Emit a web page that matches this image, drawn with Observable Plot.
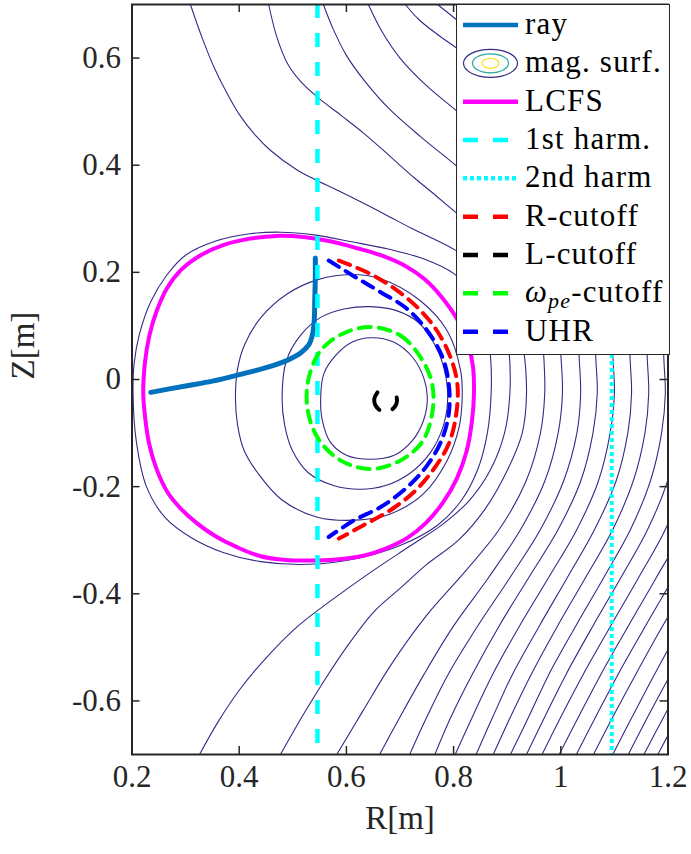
<!DOCTYPE html>
<html><head><meta charset="utf-8">
<script src="https://cdn.jsdelivr.net/npm/d3@7"></script>
<script src="https://cdn.jsdelivr.net/npm/@observablehq/plot@0.6"></script>
<style>
body{margin:0;background:#fff;}
#wrap{position:relative;width:691px;height:854px;}
#legend{position:absolute;left:0;top:0;}
</style></head><body><div id="wrap"></div>
<script>
const xTicks=[0.2,0.4,0.6,0.8,1,1.2];
const yTicks=[-0.6,-0.4,-0.2,0,0.2,0.4,0.6];
const harm1R=0.546;
const harm2R=1.095;
const ray=[[0.235,-0.024],[0.30,-0.012],[0.35,-0.003],[0.40,0.009],[0.45,0.022],[0.49,0.036],[0.515,0.050],[0.530,0.065],[0.537,0.085],[0.540,0.11],[0.541,0.15],[0.542,0.19],[0.542,0.227]];
const lcfs=[[0.221,-0.027],[0.224,0.03],[0.232,0.08],[0.245,0.125],[0.265,0.170],[0.292,0.205],[0.328,0.232],[0.370,0.251],[0.42,0.263],[0.47,0.268],[0.52,0.266],[0.57,0.258],[0.62,0.245],[0.664,0.232],[0.71,0.212],[0.745,0.188],[0.776,0.156],[0.807,0.112],[0.826,0.070],[0.836,0.025],[0.838,-0.027],[0.834,-0.08],[0.824,-0.135],[0.806,-0.185],[0.78,-0.230],[0.748,-0.268],[0.713,-0.296],[0.672,-0.316],[0.632,-0.329],[0.58,-0.336],[0.53,-0.338],[0.487,-0.337],[0.44,-0.330],[0.396,-0.313],[0.355,-0.292],[0.322,-0.269],[0.290,-0.240],[0.266,-0.210],[0.245,-0.165],[0.232,-0.120],[0.225,-0.075]];
const rCutoff=[[0.586,0.222],[0.645,0.197],[0.695,0.166],[0.738,0.129],[0.769,0.091],[0.794,0.042],[0.807,-0.008],[0.805,-0.064],[0.791,-0.12],[0.763,-0.167],[0.726,-0.21],[0.682,-0.244],[0.632,-0.272],[0.586,-0.297]];
const uhr=[[0.567,0.222],[0.617,0.191],[0.664,0.163],[0.713,0.132],[0.751,0.091],[0.779,0.042],[0.791,-0.008],[0.791,-0.064],[0.776,-0.117],[0.748,-0.164],[0.710,-0.204],[0.664,-0.238],[0.614,-0.263],[0.567,-0.294]];
const wpeCutoff=[[0.645,0.098],[0.701,0.082],[0.738,0.042],[0.760,-0.008],[0.760,-0.064],[0.741,-0.117],[0.701,-0.151],[0.645,-0.167],[0.589,-0.151],[0.546,-0.108],[0.527,-0.052],[0.530,0.004],[0.552,0.054],[0.592,0.085]];
const lCutoff=[[0.658,-0.024],[0.652,-0.036],[0.654,-0.048],[0.662,-0.057],[0.673,-0.060],[0.685,-0.056],[0.693,-0.046],[0.694,-0.034],[0.688,-0.024],[0.678,-0.019]];
const closedSurf=[
 [[0.552,-0.033],[0.558,0.011],[0.580,0.045],[0.611,0.070],[0.645,0.078],[0.688,0.070],[0.723,0.042],[0.744,0.004],[0.751,-0.033],[0.744,-0.076],[0.723,-0.114],[0.688,-0.142],[0.645,-0.149],[0.601,-0.142],[0.570,-0.117],[0.555,-0.076]],
 [[0.480,-0.034],[0.488,0.035],[0.514,0.082],[0.552,0.116],[0.598,0.132],[0.645,0.136],[0.692,0.129],[0.735,0.106],[0.766,0.063],[0.783,0.017],[0.789,-0.034],[0.781,-0.086],[0.757,-0.136],[0.720,-0.174],[0.673,-0.198],[0.626,-0.205],[0.576,-0.198],[0.529,-0.174],[0.499,-0.132],[0.485,-0.086]],
 [[0.393,-0.034],[0.397,0.02],[0.41,0.065],[0.44,0.115],[0.49,0.16],[0.545,0.186],[0.608,0.196],[0.664,0.188],[0.738,0.147],[0.788,0.091],[0.813,0.017],[0.816,-0.034],[0.810,-0.090],[0.788,-0.151],[0.744,-0.213],[0.682,-0.251],[0.626,-0.262],[0.546,-0.257],[0.48,-0.225],[0.435,-0.175],[0.409,-0.132],[0.397,-0.085]],
 [[0.202,-0.027],[0.204,0.03],[0.214,0.085],[0.235,0.145],[0.265,0.195],[0.300,0.232],[0.355,0.258],[0.42,0.272],[0.477,0.275],[0.54,0.270],[0.61,0.257],[0.68,0.243],[0.745,0.225],[0.80,0.198],[0.838,0.158],[0.86,0.10],[0.869,0.04],[0.870,-0.027],[0.863,-0.10],[0.845,-0.168],[0.815,-0.225],[0.77,-0.272],[0.70,-0.310],[0.62,-0.334],[0.53,-0.345],[0.44,-0.340],[0.37,-0.323],[0.310,-0.295],[0.262,-0.258],[0.227,-0.200],[0.208,-0.115]]
];
const openSurf=[
 [[0.309,0.700],[0.330,0.640],[0.353,0.583],[0.378,0.533],[0.402,0.492],[0.430,0.456],[0.458,0.428],[0.508,0.391],[0.546,0.371],[0.59,0.350],[0.632,0.329],[0.68,0.304],[0.726,0.280],[0.766,0.261],[0.804,0.241],[0.86,0.203],[0.89,0.14],[0.903,0.06],[0.905,-0.026],[0.895,-0.10],[0.868,-0.17],[0.83,-0.225],[0.78,-0.27],[0.72,-0.31],[0.645,-0.36],[0.575,-0.41],[0.51,-0.46],[0.45,-0.52],[0.40,-0.58],[0.36,-0.64],[0.326,-0.70]],
 [[0.455,0.700],[0.470,0.640],[0.490,0.590],[0.515,0.556],[0.546,0.527],[0.59,0.493],[0.632,0.460],[0.68,0.418],[0.726,0.377],[0.766,0.344],[0.804,0.312],[0.84,0.281],[0.878,0.235],[0.91,0.15],[0.93,0.06],[0.936,-0.026],[0.928,-0.10],[0.90,-0.17],[0.86,-0.24],[0.809,-0.30],[0.75,-0.345],[0.70,-0.39],[0.65,-0.435],[0.60,-0.50],[0.56,-0.56],[0.52,-0.625],[0.477,-0.70]],
 [[0.557,0.700],[0.575,0.655],[0.60,0.605],[0.635,0.556],[0.68,0.505],[0.74,0.452],[0.805,0.399],[0.845,0.365],[0.89,0.31],[0.935,0.22],[0.962,0.12],[0.968,0.047],[0.970,-0.026],[0.962,-0.10],[0.935,-0.19],[0.885,-0.28],[0.82,-0.36],[0.75,-0.44],[0.685,-0.53],[0.63,-0.62],[0.582,-0.70]],
 [[0.641,0.700],[0.665,0.652],[0.70,0.600],[0.75,0.548],[0.805,0.502],[0.85,0.463],[0.91,0.40],[0.96,0.30],[0.99,0.17],[1.0,0.047],[1.003,-0.026],[0.995,-0.10],[0.97,-0.19],[0.925,-0.28],[0.865,-0.37],[0.80,-0.46],[0.745,-0.55],[0.70,-0.63],[0.662,-0.70]],
 [[0.710,0.700],[0.735,0.672],[0.77,0.644],[0.805,0.619],[0.85,0.584],[0.93,0.50],[1.0,0.33],[1.03,0.17],[1.034,0.047],[1.037,-0.026],[1.03,-0.10],[1.005,-0.19],[0.962,-0.28],[0.905,-0.37],[0.845,-0.46],[0.79,-0.55],[0.75,-0.63],[0.718,-0.70]],
 [[0.770,0.700],[0.805,0.672],[0.95,0.55],[1.03,0.35],[1.062,0.17],[1.065,0.047],[1.068,-0.026],[1.06,-0.10],[1.037,-0.19],[0.995,-0.28],[0.94,-0.37],[0.885,-0.46],[0.835,-0.55],[0.795,-0.63],[0.765,-0.70]],
 [[0.86,0.70],[0.98,0.58],[1.06,0.38],[1.095,0.17],[1.097,0.047],[1.100,-0.026],[1.092,-0.10],[1.07,-0.19],[1.03,-0.28],[0.977,-0.37],[0.923,-0.46],[0.873,-0.55],[0.835,-0.63],[0.803,-0.70]],
 [[0.95,0.70],[1.05,0.55],[1.11,0.36],[1.128,0.17],[1.129,0.047],[1.132,-0.026],[1.125,-0.10],[1.103,-0.19],[1.063,-0.28],[1.012,-0.37],[0.96,-0.46],[0.91,-0.55],[0.873,-0.63],[0.842,-0.70]],
 [[1.05,0.70],[1.12,0.5],[1.155,0.3],[1.161,0.047],[1.164,-0.026],[1.157,-0.10],[1.135,-0.19],[1.097,-0.28],[1.046,-0.37],[0.994,-0.46],[0.945,-0.55],[0.906,-0.63],[0.874,-0.70]],
 [[1.14,0.7],[1.18,0.45],[1.193,0.2],[1.192,0.047],[1.195,-0.026],[1.188,-0.10],[1.167,-0.19],[1.13,-0.28],[1.08,-0.37],[1.028,-0.46],[0.978,-0.55],[0.94,-0.63],[0.906,-0.70]],
 [[1.227,-0.026],[1.22,-0.10],[1.199,-0.19],[1.162,-0.28],[1.112,-0.37],[1.06,-0.46],[1.01,-0.55],[0.97,-0.63],[0.936,-0.70]],
 [[1.255,-0.10],[1.23,-0.19],[1.195,-0.28],[1.145,-0.37],[1.093,-0.46],[1.042,-0.55],[1.0,-0.63],[0.965,-0.70]],
 [[1.26,-0.19],[1.228,-0.28],[1.178,-0.37],[1.126,-0.46],[1.075,-0.55],[1.033,-0.63],[0.997,-0.70]],
 [[1.26,-0.28],[1.21,-0.37],[1.158,-0.46],[1.107,-0.55],[1.065,-0.63],[1.029,-0.70]],
 [[1.245,-0.37],[1.19,-0.46],[1.14,-0.55],[1.097,-0.63],[1.061,-0.70]],
 [[1.28,-0.37],[1.225,-0.46],[1.175,-0.55],[1.133,-0.63],[1.097,-0.70]],
 [[1.255,-0.46],[1.205,-0.55],[1.162,-0.63],[1.126,-0.70]],
 [[1.29,-0.46],[1.235,-0.55],[1.192,-0.63],[1.155,-0.70]],
 [[1.30,-0.48],[1.26,-0.55],[1.218,-0.63],[1.181,-0.70]]
];
const legendLabels=["ray","mag. surf.","LCFS","1st harm.","2nd harm","R-cutoff","L-cutoff","ωpe-cutoff","UHR"];

const NAVY="#352a87", FONT="'Liberation Serif','DejaVu Serif',serif";
const flat=(arr)=>arr.flatMap((c,i)=>c.map(p=>({R:p[0],Z:p[1],id:i})));
const pts=(arr)=>arr.map(p=>({R:p[0],Z:p[1]}));
const dashed=(data,color,closed,da="12,8")=>Plot.line(pts(data),{x:"R",y:"Z",stroke:color,strokeWidth:4,strokeDasharray:da,curve:closed?"catmull-rom-closed":"catmull-rom"});

const chart=Plot.plot({
  width:691,height:854,marginLeft:131.5,marginRight:23.5,marginTop:4,marginBottom:100,
  style:{fontFamily:FONT,fontSize:"31px",color:"#262626",background:"#fff"},
  x:{domain:[0.2,1.2],axis:null},
  y:{domain:[-0.7,0.7],axis:null},
  marks:[
    Plot.line(flat(openSurf),{x:"R",y:"Z",z:"id",stroke:NAVY,strokeWidth:1.1,curve:"catmull-rom",clip:true}),
    Plot.line(flat(closedSurf),{x:"R",y:"Z",z:"id",stroke:NAVY,strokeWidth:1.1,curve:"catmull-rom-closed",clip:true}),
    Plot.line(pts(lcfs),{x:"R",y:"Z",stroke:"#ff00ff",strokeWidth:4,curve:"catmull-rom-closed"}),
    Plot.line(pts(ray),{x:"R",y:"Z",stroke:"#0072bd",strokeWidth:5,curve:"catmull-rom"}),
    Plot.ruleX([harm1R],{x:d=>d,stroke:"#00ffff",strokeWidth:4.5,strokeDasharray:"14,15"}),
    Plot.ruleX([harm2R],{x:d=>d,stroke:"#00ffff",strokeWidth:4,strokeDasharray:"4,3"}),
    dashed(rCutoff,"#ff0000",false),
    dashed(lCutoff,"#000000",false,"20,14,13,40"),
    dashed(wpeCutoff,"#00ff00",true),
    dashed(uhr,"#0000ff",false),
    Plot.frame({stroke:"#262626",strokeWidth:2}),
    Plot.tickX(xTicks,{x:d=>d,insetTop:742,stroke:"#262626",strokeWidth:1.5}),
    Plot.tickX(xTicks,{x:d=>d,insetBottom:742,stroke:"#262626",strokeWidth:1.5}),
    Plot.tickY(yTicks,{y:d=>d,insetRight:528,stroke:"#262626",strokeWidth:1.5}),
    Plot.tickY(yTicks,{y:d=>d,insetLeft:528,stroke:"#262626",strokeWidth:1.5}),
    Plot.text(xTicks,{x:d=>d,frameAnchor:"bottom",dy:32,text:d=>String(d),fill:"#262626"}),
    Plot.text(yTicks,{y:d=>d,frameAnchor:"left",dx:-11,textAnchor:"end",text:d=>String(d),fill:"#262626"}),
    Plot.text(["R[m]"],{frameAnchor:"bottom",dy:74,text:d=>d,fontSize:33,fill:"#262626"}),
    Plot.text(["Z[m]"],{frameAnchor:"left",dx:-109,rotate:-90,text:d=>d,fontSize:33,fill:"#262626"})
  ]
});
const wrap=document.getElementById("wrap");
wrap.appendChild(chart);

// legend overlay
const lg=d3.select(wrap).append("svg").attr("id","legend").attr("width",691).attr("height",854)
  .style("font-family",FONT).style("font-size","31px");
lg.append("rect").attr("x",456.5).attr("y",4.5).attr("width",213).attr("height",350).attr("fill","#fff").attr("stroke","#262626").attr("stroke-width",1);
const rowY=[25,63.3,101.7,140,178.3,216.7,255,293.3,331.7];
const styles=[
  {c:"#0072bd",w:4.5,d:null},
  null,
  {c:"#ff00ff",w:4.5,d:null},
  {c:"#00ffff",w:4.5,d:"15,15"},
  {c:"#00ffff",w:4.5,d:"4,3"},
  {c:"#ff0000",w:4.5,d:"15,15"},
  {c:"#000000",w:4.5,d:"15,15"},
  {c:"#00ff00",w:4.5,d:"15,15"},
  {c:"#0000ff",w:4.5,d:"15,15"}
];
legendLabels.forEach((lab,i)=>{
  const y=rowY[i], s=styles[i];
  if(s){
    const l=lg.append("line").attr("x1",463).attr("x2",518).attr("y1",y).attr("y2",y).attr("stroke",s.c).attr("stroke-width",s.w);
    if(s.d) l.attr("stroke-dasharray",s.d);
  } else {
    lg.append("ellipse").attr("cx",490.5).attr("cy",y).attr("rx",27).attr("ry",14).attr("fill","none").attr("stroke",NAVY).attr("stroke-width",1.2);
    lg.append("ellipse").attr("cx",490.5).attr("cy",y).attr("rx",18).attr("ry",9.5).attr("fill","none").attr("stroke","#26a89b").attr("stroke-width",1.2);
    lg.append("ellipse").attr("cx",490.5).attr("cy",y).attr("rx",8.5).attr("ry",5).attr("fill","none").attr("stroke","#f2e21b").attr("stroke-width",1.2);
  }
  const t=lg.append("text").attr("x",525).attr("y",y+9).attr("fill","#000").attr("letter-spacing","1.2px");
  if(lab.startsWith("ω")){
    t.append("tspan").attr("font-style","italic").text("ω");
    t.append("tspan").attr("font-style","italic").attr("font-size","22px").attr("dy",6).text("pe");
    t.append("tspan").attr("dy",-6).text("-cutoff");
  } else t.text(lab);
});
</script></body></html>
